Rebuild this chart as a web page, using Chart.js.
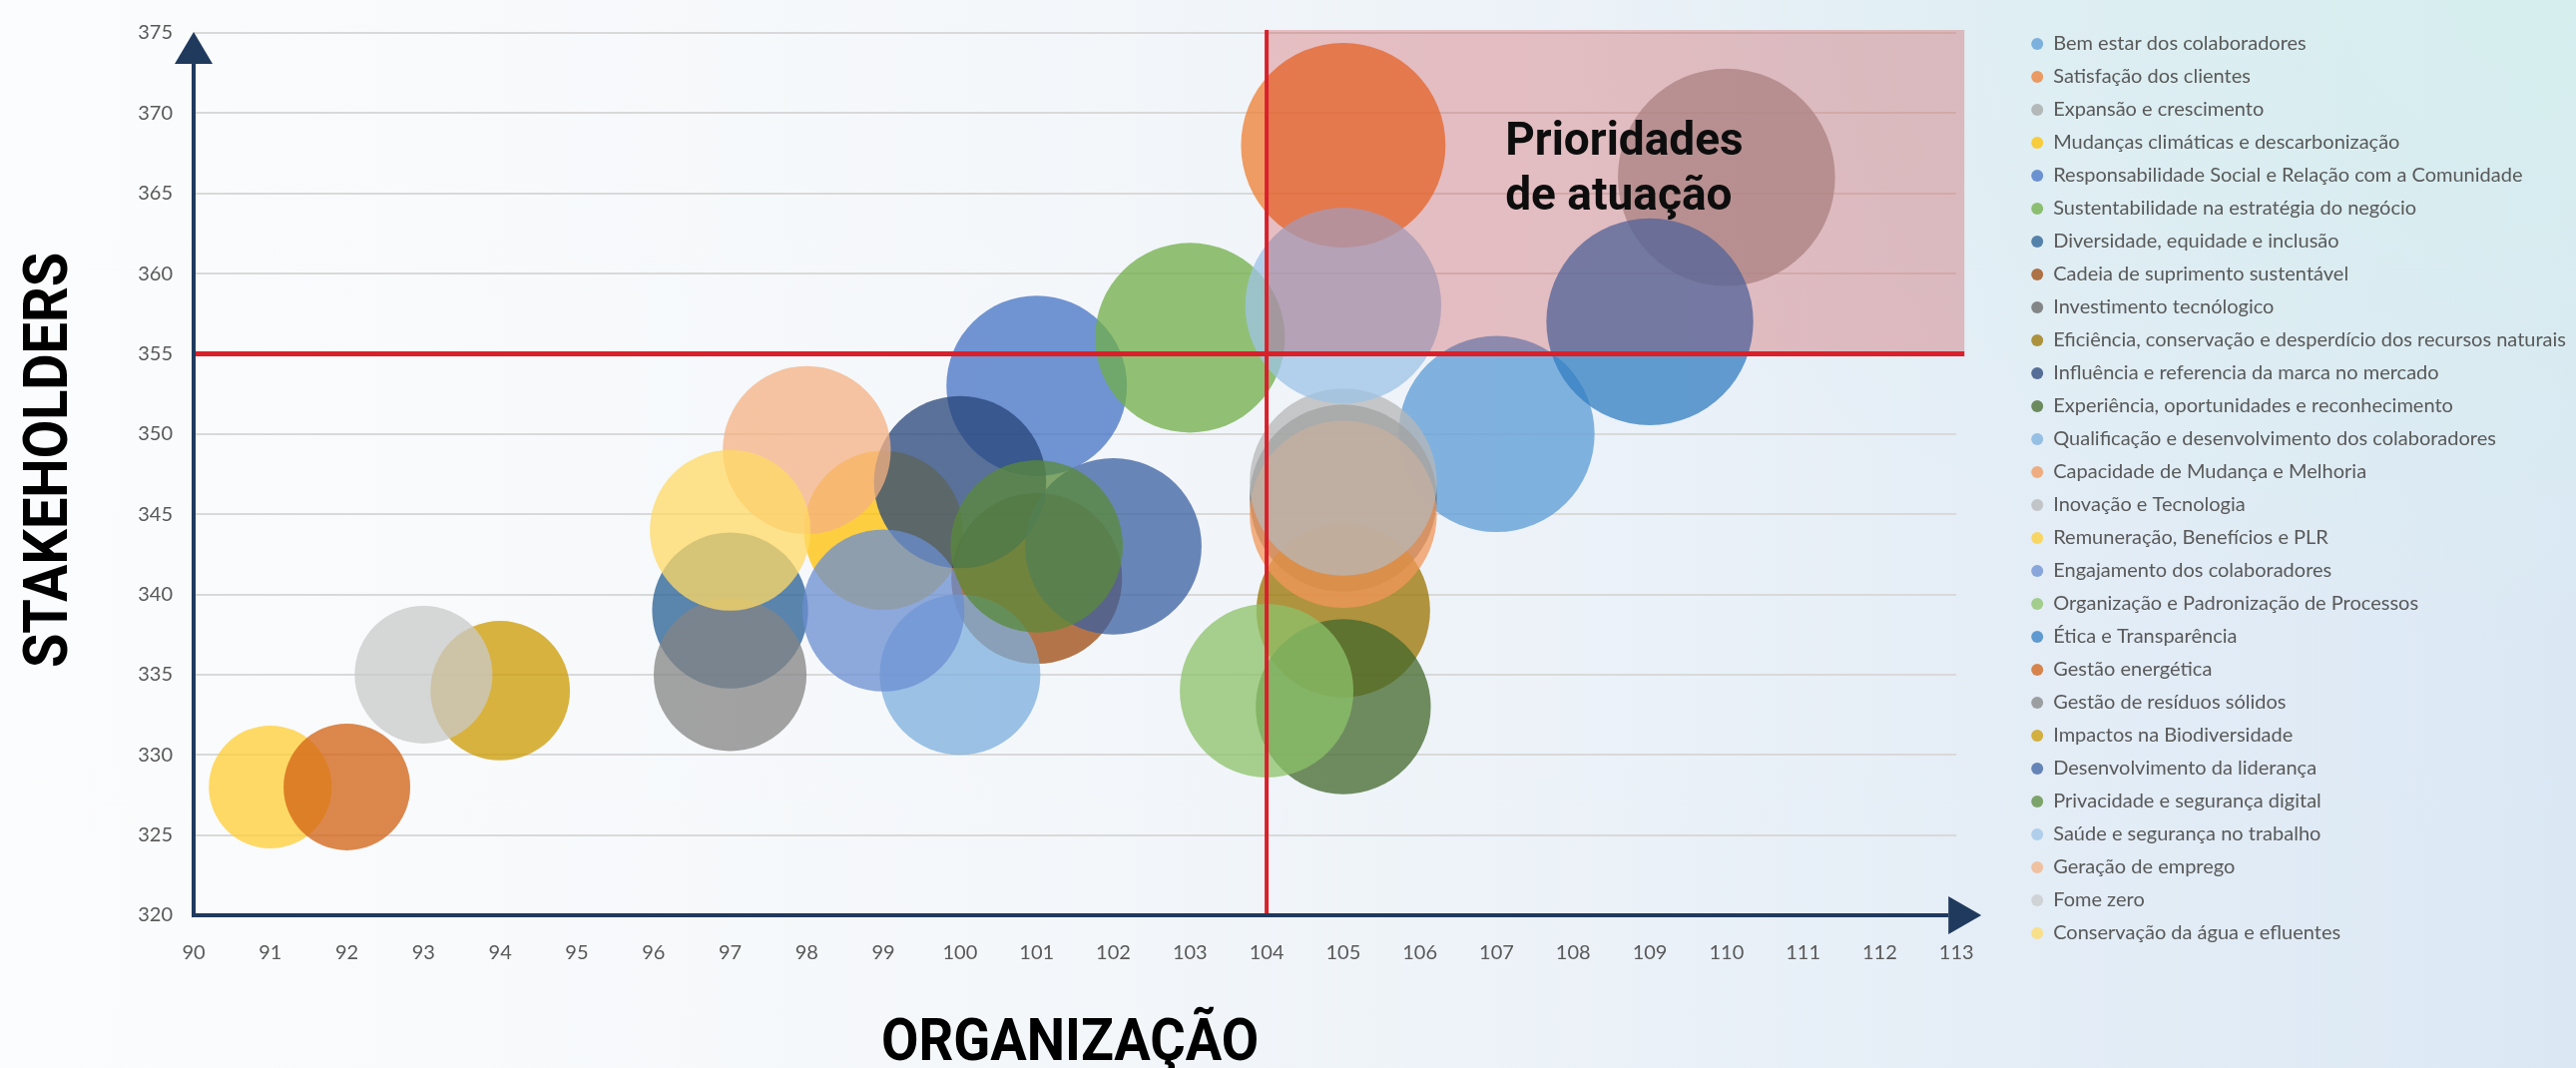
<!DOCTYPE html>
<html lang="pt-BR">
<head>
<meta charset="utf-8">
<title>Matriz de materialidade</title>
<script src="https://cdn.jsdelivr.net/npm/chart.js@4.4.1/dist/chart.umd.min.js"></script>
<style>
  html, body { margin: 0; padding: 0; }
  body {
    width: 2581px;
    height: 1070px;
    overflow: hidden;
    background:
      radial-gradient(ellipse 1000px 650px at 100% 0%, rgba(212, 240, 236, 0.75), rgba(212, 240, 236, 0) 100%),
      linear-gradient(90deg, #fbfcfd 0%, #f4f7fa 40%, #e7eff7 72%, #dbe8f4 100%);
  }
  #wrap { position: relative; width: 2581px; height: 1070px; }
</style>
</head>
<body>
<div id="wrap"><canvas id="matriz"></canvas></div>
<script>
"use strict";

// Temas materiais, na ordem da legenda
const temas = [
    'Bem estar dos colaboradores',
    'Satisfação dos clientes',
    'Expansão e crescimento',
    'Mudanças climáticas e descarbonização',
    'Responsabilidade Social e Relação com a Comunidade',
    'Sustentabilidade na estratégia do negócio',
    'Diversidade, equidade e inclusão',
    'Cadeia de suprimento sustentável',
    'Investimento tecnólogico',
    'Eficiência, conservação e desperdício dos recursos naturais',
    'Influência e referencia da marca no mercado',
    'Experiência, oportunidades e reconhecimento',
    'Qualificação e desenvolvimento dos colaboradores',
    'Capacidade de Mudança e Melhoria',
    'Inovação e Tecnologia',
    'Remuneração, Benefícios e PLR',
    'Engajamento dos colaboradores',
    'Organização e Padronização de Processos',
    'Ética e Transparência',
    'Gestão energética',
    'Gestão de resíduos sólidos',
    'Impactos na Biodiversidade',
    'Desenvolvimento da liderança',
    'Privacidade e segurança digital',
    'Saúde e segurança no trabalho',
    'Geração de emprego',
    'Fome zero',
    'Conservação da água e efluentes'
];

// Nota da organização (eixo x)
const organizacao = [107, 105, 110, 99, 101, 103, 97, 101, 105, 105, 100, 105, 100, 105,
    105, 91, 99, 104, 109, 92, 97, 94, 102, 101, 105, 98, 93, 97];

// Nota dos stakeholders (eixo y)
const stakeholders = [350, 368, 366, 344, 353, 356, 339, 341, 346, 339, 347, 333, 335, 345,
    347, 328, 339, 334, 357, 328, 335, 334, 343, 343, 358, 349, 335, 344];

// Relevância (tamanho da bolha, área proporcional)
const relevancia = [79, 86, 97, 52, 67, 74, 50, 60, 72, 62, 61, 63, 53, 72,
    72, 31, 54, 62, 88, 33, 48, 40, 64, 61, 79, 58, 39, 53];

const cores = ['#5B9BD5', '#ED7D31', '#A5A5A5', '#FFC000', '#4472C4', '#70AD47', '#255E91',
    '#9E480E', '#636363', '#997300', '#264478', '#43682B', '#7CAFDD', '#F1975A', '#B7B7B7',
    '#FFCD33', '#698ED0', '#8CC168', '#327DC2', '#D26012', '#848484', '#CC9A00', '#3A5FA0',
    '#5A8A39', '#9DC3E6', '#F4B183', '#C9C9C9', '#FFD966'];

// Eixos
const limitesX = [90, 113];
const limitesY = [320, 375];
const passoX = 1;
const passoY = 5;
const tituloX = 'ORGANIZAÇÃO';
const tituloY = 'STAKEHOLDERS';

// Linhas de corte do quadrante prioritário
const corteOrganizacao = 104;
const corteStakeholders = 355;
const rotuloQuadrante = ['Prioridades', 'de atuação'];

var tickFont = { family: 'Lato, "Open Sans", sans-serif', size: 20 };

function alpha(hex, a) {
    var n = parseInt(hex.slice(1), 16);
    return 'rgba(' + (n >> 16) + ', ' + ((n >> 8) & 255) + ', ' + (n & 255) + ', ' + a + ')';
}

// Excel: a maior bolha tem 25% do menor lado da área de plotagem
function raioBolha(chart, valor) {
    var area = chart.chartArea;
    var base = 0.125 * Math.min(area.right - area.left, area.bottom - area.top);
    return base * Math.sqrt(valor / 100);
}

var quadrantePlugin = {
    id: 'quadrante',
    afterDatasetsDraw: function (chart) {
        var ctx = chart.ctx;
        var area = chart.chartArea;
        var x0 = chart.scales.x.getPixelForValue(corteOrganizacao);
        var y0 = chart.scales.y.getPixelForValue(corteStakeholders);
        var direita = area.right + 8;

        ctx.save();
        ctx.fillStyle = 'rgba(192, 0, 0, 0.22)';
        ctx.fillRect(x0, area.top - 3, direita - x0, y0 - area.top + 3);

        ctx.strokeStyle = '#d9212b';
        ctx.lineWidth = 5;
        ctx.beginPath();
        ctx.moveTo(area.left, y0);
        ctx.lineTo(direita, y0);
        ctx.stroke();

        ctx.lineWidth = 4;
        ctx.beginPath();
        ctx.moveTo(x0, area.top - 3);
        ctx.lineTo(x0, area.bottom);
        ctx.stroke();

        ctx.fillStyle = '#0d0d0d';
        ctx.font = 'bold 46px Roboto, sans-serif';
        ctx.textAlign = 'left';
        ctx.textBaseline = 'alphabetic';
        var tx = x0 + (direita - x0) * 0.342;
        var ty = area.top + (y0 - area.top) * 0.38;
        rotuloQuadrante.forEach(function (linha, i) {
            ctx.fillText(linha, tx, ty + i * 55);
        });
        ctx.restore();
    },
    afterDraw: function (chart) {
        var ctx = chart.ctx;
        var area = chart.chartArea;

        // eixos com setas
        ctx.save();
        ctx.strokeStyle = '#203a5e';
        ctx.fillStyle = '#203a5e';
        ctx.lineWidth = 4;
        ctx.beginPath();
        ctx.moveTo(area.left, area.bottom);
        ctx.lineTo(area.left, area.top + 30);
        ctx.moveTo(area.left - 2, area.bottom);
        ctx.lineTo(area.right - 8, area.bottom);
        ctx.stroke();

        ctx.beginPath();
        ctx.moveTo(area.left, area.top - 1);
        ctx.lineTo(area.left - 19, area.top + 31);
        ctx.lineTo(area.left + 19, area.top + 31);
        ctx.closePath();
        ctx.fill();

        ctx.beginPath();
        ctx.moveTo(area.right + 25, area.bottom);
        ctx.lineTo(area.right - 8, area.bottom - 19);
        ctx.lineTo(area.right - 8, area.bottom + 19);
        ctx.closePath();
        ctx.fill();

        // títulos dos eixos (fonte condensada)
        ctx.fillStyle = '#000';
        ctx.textAlign = 'center';
        ctx.textBaseline = 'alphabetic';

        ctx.save();
        ctx.translate(chart.scales.y.left + 67, (area.top + area.bottom) / 2 - 14);
        ctx.rotate(-Math.PI / 2);
        ctx.scale(0.9, 1);
        ctx.font = 'bold 62px Roboto, sans-serif';
        ctx.fillText(tituloY, 0, 0);
        ctx.restore();

        ctx.save();
        ctx.translate((area.left + area.right) / 2 - 5, chart.scales.x.bottom - 8);
        ctx.scale(0.92, 1);
        ctx.font = 'bold 59px Roboto, sans-serif';
        ctx.fillText(tituloX, 0, 0);
        ctx.restore();

        ctx.restore();
    }
};

var datasets = temas.map(function (tema, i) {
    return {
        label: tema,
        data: [{ x: organizacao[i], y: stakeholders[i] }],
        backgroundColor: alpha(cores[i], 0.75),
        borderWidth: 0,
        hoverRadius: 0,
        clip: false,
        xAxisID: 'x',
        yAxisID: 'y',
        order: temas.length - i
    };
});

var chart = new Chart(document.getElementById('matriz'), {
    type: 'bubble',
    data: { datasets: datasets },
    options: {
        responsive: true,
        maintainAspectRatio: false,
        animation: false,
        events: [],
        layout: {
            autoPadding: false,
            padding: { top: 21, left: 0, right: 0, bottom: 0 }
        },
        plugins: {
            tooltip: { enabled: false },
            legend: {
                position: 'right',
                align: 'start',
                maxWidth: 567,
                labels: {
                    usePointStyle: true,
                    pointStyle: 'circle',
                    boxWidth: 12,
                    boxHeight: 8.5,
                    padding: 13,
                    color: '#595959',
                    font: { family: 'Lato, "Open Sans", sans-serif', size: 20 },
                    sort: function (a, b) { return a.datasetIndex - b.datasetIndex; }
                }
            }
        },
        scales: {
            x: {
                type: 'linear',
                position: 'bottom',
                min: limitesX[0],
                max: limitesX[1],
                grid: { display: false },
                border: { display: false },
                ticks: { stepSize: passoX, padding: 18, color: '#595959', font: tickFont },
                afterFit: function (scale) { scale.height = 153; }
            },
            y: {
                type: 'linear',
                position: 'left',
                min: limitesY[0],
                max: limitesY[1],
                grid: { color: '#d9d9d9', lineWidth: 2, drawTicks: false },
                border: { display: false },
                ticks: { stepSize: passoY, padding: 21, color: '#595959', font: tickFont },
                afterFit: function (scale) { scale.width = 194; }
            },
            xTopo: {
                type: 'linear',
                position: 'top',
                grid: { display: false },
                border: { display: false },
                ticks: { display: false },
                afterFit: function (scale) { scale.height = 10; }
            },
            yDireita: {
                type: 'linear',
                position: 'right',
                grid: { display: false },
                border: { display: false },
                ticks: { display: false },
                afterFit: function (scale) { scale.width = 62; }
            }
        }
    },
    plugins: [quadrantePlugin]
});

// raio das bolhas depende da área de plotagem calculada pelo Chart.js
chart.data.datasets.forEach(function (ds, i) {
    ds.data = [{ x: organizacao[i], y: stakeholders[i], r: raioBolha(chart, relevancia[i]) }];
});
chart.update();
</script>
</body>
</html>
